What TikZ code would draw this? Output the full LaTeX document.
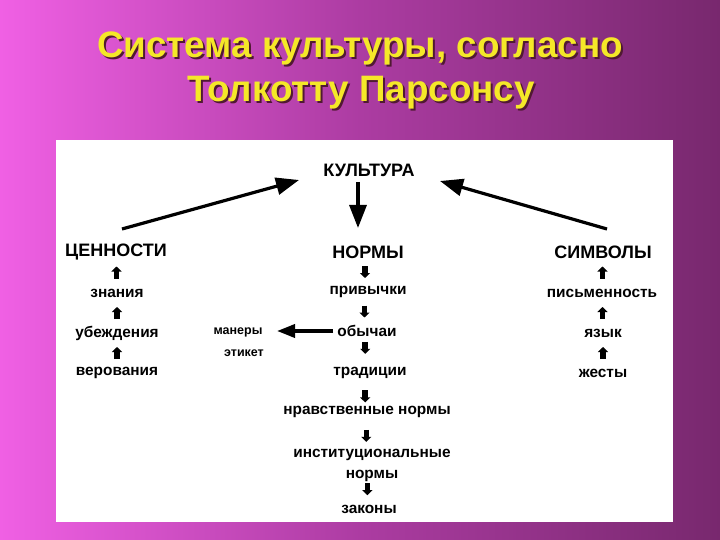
\documentclass[tikz,border=0pt]{standalone}
\usepackage{fontspec}
\setmainfont{Liberation Sans}
\usetikzlibrary{arrows.meta,calc}
\definecolor{bgL}{RGB}{240,96,228}
\definecolor{bgM}{RGB}{172,60,162}
\definecolor{bgR}{RGB}{120,40,110}
\definecolor{ttl}{RGB}{245,232,40}
\definecolor{shd}{RGB}{80,25,50}
\begin{document}
\begin{tikzpicture}[x=1pt,y=-1pt,
  head/.style={font=\fontsize{18}{20}\selectfont\bfseries, inner sep=1pt},
  item/.style={font=\fontsize{15.4}{21}\selectfont\bfseries, inner sep=1pt, align=center},
  tinyitem/.style={font=\fontsize{12.5}{14}\selectfont\bfseries, inner sep=1pt},
  ttlstyle/.style={font=\fontsize{36.8}{40}\selectfont\bfseries, inner sep=0pt, anchor=base},
  bigarrow/.style={line width=3.2pt, -{Triangle[length=23pt,width=17pt]}},
  midarrow/.style={line width=3.6pt, -{Triangle[length=18pt,width=13pt]}},
  smallarrow/.style={line width=5.5pt, -{Triangle[length=5pt,width=10pt]}}
]
\useasboundingbox (0,0) rectangle (720,540);
\shade[left color=bgL, right color=bgR, middle color=bgM] (0,0) rectangle (720,540);
\fill[white] (56,140) rectangle (673,522);

% title
\node[ttlstyle, text=shd] (t1s) at (362,60) {Система культуры, согласно};
\node[ttlstyle, text=ttl] (t1) at (360,58) {Система культуры, согласно};
\node[ttlstyle, text=shd] (t2s) at (363,104) {Толкотту Парсонсу};
\node[ttlstyle, text=ttl] (t2) at (361,102) {Толкотту Парсонсу};

% nodes
\node[head] (kult) at (369,170) {КУЛЬТУРА};
\node[head] (cen) at (116,252) {ЦЕННОСТИ};
\node[head] (norm) at (368,252) {НОРМЫ};
\node[head] (sym) at (603,252) {СИМВОЛЫ};

\node[item] (znan) at (117,293) {знания};
\node[item] (ubezh) at (117,333) {убеждения};
\node[item] (verov) at (117,373) {верования};

\node[item] (pism) at (602,293) {письменность};
\node[item] (yaz) at (603,333) {язык};
\node[item] (zhest) at (603,373) {жесты};

\node[item] (priv) at (368,292) {привычки};
\node[item] (obych) at (367,331) {обычаи};
\node[item] (trad) at (370,373) {традиции};
\node[item] (nrav) at (367,412) {нравственные нормы};
\node[item] (inst) at (372,465) {институциональные\\нормы};
\node[item] (zak) at (369,509) {законы};

\node[tinyitem] (maner) at (238,332) {манеры};
\node[tinyitem] (etik) at (244,353) {этикет};

% big arrows
\draw[bigarrow] ($(cen)+(6,-23)$) -- ($(kult)+(-70,10)$);
\draw[bigarrow] ($(sym)+(4,-23)$) -- ($(kult)+(71,11)$);
\draw[bigarrow] ($(kult)+(-11,12)$) -- ($(norm)+(-10,-24)$);
\draw[midarrow] ($(obych)+(-34,0)$) -- ($(maner)+(39,-1)$);

% small arrows up (left and right columns)
\foreach \a/\b in {cen/znan, znan/ubezh, ubezh/verov, sym/pism, pism/yaz, yaz/zhest}{
  \draw[smallarrow] ($(\a)!0.5!(\b)+(0,6)$) -- ($(\a)!0.5!(\b)+(0,-6)$);
}
% small arrows down (centre column)
\foreach \a/\b/\p in {norm/priv/0.5, priv/obych/0.5, obych/trad/0.4, trad/nrav/0.6, nrav/inst/0.45, inst/zak/0.55}{
  \draw[smallarrow] ($(\a)!\p!(\b)+(-3,-6)$) -- ($(\a)!\p!(\b)+(-3,6)$);
}
\end{tikzpicture}
\end{document}
